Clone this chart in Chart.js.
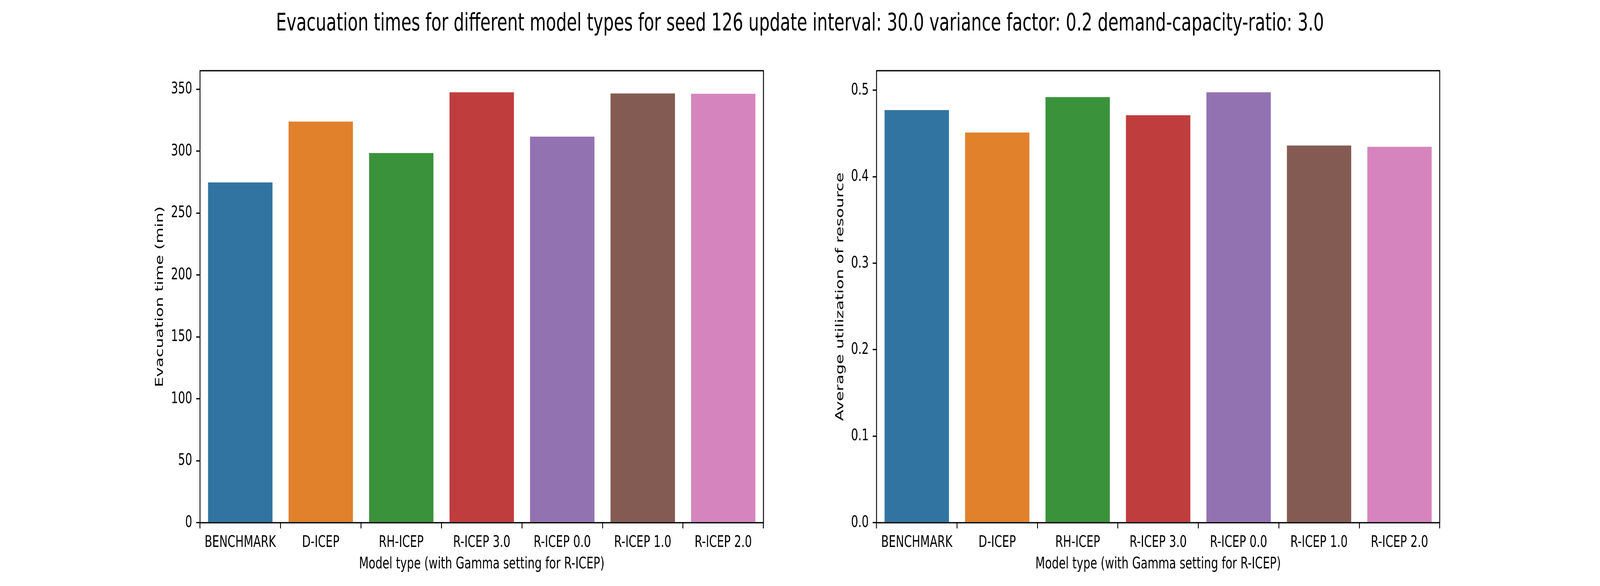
<!DOCTYPE html>
<html>
<head>
<meta charset="utf-8">
<script src="https://cdn.jsdelivr.net/npm/chart.js@4"></script>
<style>
  html, body { margin: 0; padding: 0; background: #fff; overflow: hidden; }
  #wrap { position: relative; width: 6000px; height: 1500px; transform-origin: 0 0; }
  #title {
    position: absolute; left: 0; top: 20px; width: 6000px;
    text-align: center; font-family: "DejaVu Sans"; font-size: 62.5px;
    line-height: normal; color: #000; white-space: nowrap;
  }
  canvas { position: absolute; top: 0; }
</style>
</head>
<body>
<div id="wrap">
  <div id="title">Evacuation times for different model types for seed 126 update interval: 30.0 variance factor: 0.2 demand-capacity-ratio: 3.0</div>
  <canvas id="evac" width="3000" height="1500" style="left:0px"></canvas>
  <canvas id="util" width="3000" height="1500" style="left:3000px"></canvas>
</div>
<script>
"use strict";

// Data
var models = ["BENCHMARK", "D-ICEP", "RH-ICEP", "R-ICEP 3.0", "R-ICEP 0.0", "R-ICEP 1.0", "R-ICEP 2.0"];
var evacTimes = [274.8, 323.9, 298.5, 347.6, 311.8, 346.6, 346.4];
var utilization = [0.477, 0.451, 0.492, 0.471, 0.4976, 0.436, 0.4346];
var evacTicks = [0, 50, 100, 150, 200, 250, 300, 350];
var utilTicks = [0.0, 0.1, 0.2, 0.3, 0.4, 0.5];
var palette = ["#3274a1", "#e1812c", "#3a923a", "#c03d3e", "#9372b2", "#845b53", "#d684bd"];

var FONT = "DejaVu Sans";
var FS = 41.7;
var LW = 3.33;

// the figure is laid out at 6000x1500; fit it to the real window
var wrap = document.getElementById("wrap");
var sx = window.innerWidth / 6000, sy = window.innerHeight / 1500;
wrap.style.transform = "scale(" + sx + "," + sy + ")";

Chart.defaults.color = "#000";
Chart.defaults.font.family = FONT;
Chart.defaults.font.size = FS;

// Axes frame (all four spines)
var frame = {
    id: "frame",
    afterDatasetsDraw: function (chart) {
        var a = chart.chartArea, ctx = chart.ctx;
        ctx.save();
        ctx.strokeStyle = "#000";
        ctx.lineWidth = LW;
        ctx.strokeRect(a.left, a.top, a.right - a.left, a.bottom - a.top);
        ctx.restore();
    }
};

function makeChart(id, values, ticks, yMax, yTitle, fmt, pad, yWidth) {
    var ctx = document.getElementById(id).getContext("2d");
    return new Chart(ctx, {
        type: "bar",
        data: {
            labels: models,
            datasets: [{
                data: values,
                backgroundColor: palette,
                borderWidth: 0,
                barPercentage: 0.8,
                categoryPercentage: 1.0
            }]
        },
        options: {
            responsive: false,
            animation: false,
            devicePixelRatio: 1,
            layout: { padding: pad },
            plugins: {
                legend: { display: false },
                tooltip: { enabled: false }
            },
            scales: {
                x: {
                    offset: true,
                    border: { display: false },
                    grid: {
                        drawOnChartArea: false, drawTicks: true,
                        tickLength: 14.6, color: "#000", lineWidth: LW
                    },
                    ticks: { padding: 12, maxRotation: 0, autoSkip: false, font: { size: FS } },
                    title: {
                        display: true,
                        text: "Model type (with Gamma setting for R-ICEP)",
                        font: { size: FS }, padding: 4
                    },
                    afterFit: function (scale) { scale.height = 135; }
                },
                y: {
                    min: 0,
                    max: yMax,
                    border: { display: false },
                    grid: {
                        drawOnChartArea: false, drawTicks: true,
                        tickLength: 14.6, color: "#000", lineWidth: LW
                    },
                    afterBuildTicks: function (scale) {
                        scale.ticks = ticks.map(function (v) { return { value: v }; });
                    },
                    ticks: {
                        padding: 14.6,
                        font: { size: FS },
                        callback: function (v) { return fmt(v); }
                    },
                    title: {
                        display: true,
                        text: yTitle,
                        font: { size: FS }, padding: 4
                    },
                    afterFit: function (scale) { scale.width = yWidth; }
                }
            }
        },
        plugins: [frame]
    });
}

makeChart("evac", evacTimes, evacTicks, 365, "Evacuation time (min)",
    function (v) { return String(Math.round(v)); },
    { left: 571, right: 137, top: 181, bottom: 27 }, 179);

makeChart("util", utilization, utilTicks, 0.5225, "Average utilization of resource",
    function (v) { return v.toFixed(1); },
    { left: 122, right: 601, top: 181, bottom: 27 }, 165);
</script>
</body>
</html>
